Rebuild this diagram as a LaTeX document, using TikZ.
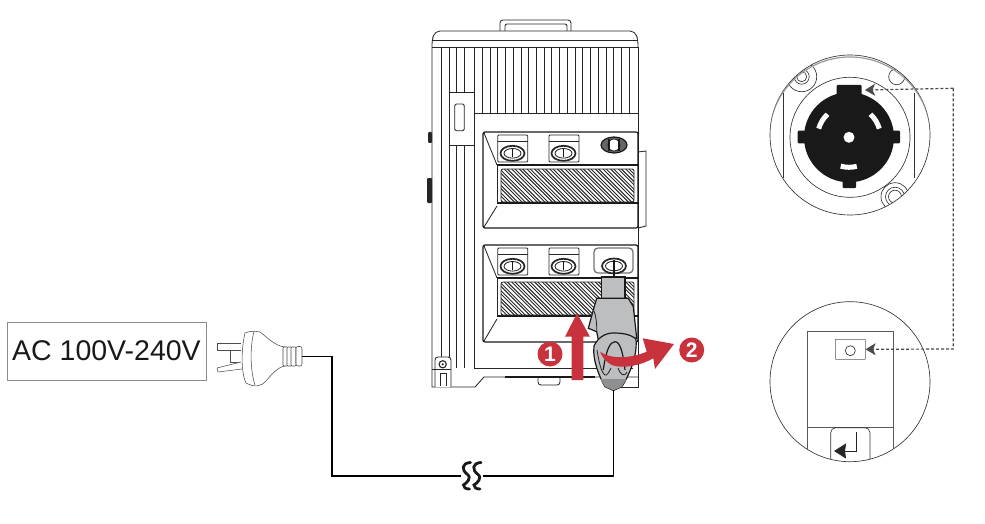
\documentclass[tikz,border=0pt]{standalone}
\usepackage{fontspec}
\setmainfont{Liberation Sans}
\usetikzlibrary{arrows.meta}
\definecolor{markred}{HTML}{C8323D}
\definecolor{pluglight}{HTML}{BDBEC0}
\definecolor{plugdark}{HTML}{8E8F91}
\definecolor{calloutgrey}{HTML}{4A4A4A}
\begin{document}
\begin{tikzpicture}[
    x=1pt, y=-1pt,
    thinline/.style={draw=black!85, line width=0.85pt},
    panelline/.style={draw=black!90, line width=1.2pt},
    hatchline/.style={draw=black!85, line width=0.95pt},
    plugline/.style={draw=black!70, line width=0.55pt},
    cable/.style={draw=black, line width=1.5pt},
    detailline/.style={draw=black!80, line width=0.65pt},
    leader/.style={draw=calloutgrey, line width=1.2pt, densely dashed, -{Stealth[length=10pt,width=12pt,inset=2.5pt]}},
    numberdot/.style={circle, fill=markred, text=white, minimum size=25pt, inner sep=0pt, font=\fontsize{21}{21}\selectfont\bfseries},
    voltbox/.style={draw=black!45, line width=0.6pt, minimum width=199pt, minimum height=58pt, inner sep=0pt, font=\fontsize{28.5}{30}\selectfont, text=black!90}
  ]
  \useasboundingbox (0,0) rectangle (985,524);

  % mains side
  \node[voltbox] (acbox) at (106.5,351) {AC 100V-240V};
  \draw[plugline, fill=white] (241,343) -- (217,343) -- (217,350) -- (241,350);
  \draw[plugline] (230,351) -- (230,362) -- (241,362);
  \draw[plugline, fill=white] (241,362) -- (217,368) -- (218,372) -- (242,369);
  \draw[plugline, fill=white] (245,333) .. controls (242,345) and (240,370) .. (246,383)
    .. controls (255,388) and (262,386) .. (266,381) .. controls (272,374) and (278,367) .. (285,366)
    -- (285,347) .. controls (275,346) and (268,338) .. (260,332) .. controls (255,331) and (249,331) .. (245,333) -- cycle;
  \draw[plugline] (254,332) .. controls (250,345) and (250,370) .. (255,385);
  \foreach \ribx in {283,287,291} {
    \draw[plugline, fill=white, rounded corners=1pt] (\ribx,347) rectangle (\ribx+5,366);
  }
  \draw[plugline, fill=white, rounded corners=2pt] (296,346.5) rectangle (302,366);
  \coordinate (plugend) at (302,356.5);

  % device body
  \draw[thinline, rounded corners=3pt] (500,31) -- (500,20) -- (571,20) -- (571,31);
  \draw[thinline, rounded corners=2pt] (505,31) -- (505,24) -- (567,24) -- (567,31);
  \draw[thinline, rounded corners=5pt] (432,47) -- (432,40) -- (435,31) -- (635,31) -- (638,40) -- (638,47);
  \draw[thinline] (432,40) -- (638,40);
  \draw[thinline] (432,47) -- (638,47);
  \draw[thinline] (432,47) -- (432,387) -- (475,387) -- (484,377) -- (638,377);
  \draw[thinline] (638,47) -- (638,387) -- (614,387);
  \foreach \ribx in {441.7,449.3,456.7,464.7,474.3} {
    \draw[thinline] (\ribx,47) -- (\ribx,368);
  }
  \foreach \ribx in {482,490,497.7,505.3,513,521,528.7,536.3,544,551.7,559.3,567,575,582.7,590.3,598.3,606,613.7,621.3,629.3} {
    \draw[thinline] (\ribx,47) -- (\ribx,113);
  }
  \draw[thinline] (474.3,113) -- (638,113);
  \draw[thinline, fill=white] (449.3,92.7) rectangle (474.3,145);
  \draw[thinline, rounded corners=1.5pt] (454.7,104) rectangle (464.3,130.7);
  \fill[black!85, rounded corners=1pt] (428,132) rectangle (432,143);
  \fill[black!85, rounded corners=1pt] (427,178) rectangle (432,203);
  \draw[thinline] (474.3,368) -- (633,368);
  \draw[panelline] (505,377) -- (595,377);
  \draw[thinline, rounded corners=3pt] (538,377) -- (538,385) -- (560,385) -- (560,377);
  \draw[thinline, fill=white, rounded corners=3pt] (435,387) -- (435,357) -- (451,357) -- (451,387);
  \draw[line width=1.1pt, draw=black!85] (442.7,364.3) circle (3.6);
  \fill[black!85] (442.7,364.3) circle (1.2);
  \draw[thinline] (432,369) -- (451,369);
  \draw[thinline] (440,386) -- (440,373) -- (446.7,373) -- (446.7,386);

  % upper and lower panel
  \foreach \panely/\panelend in {132/228,245/342} {
    \draw[panelline, rounded corners=2pt] (483,\panely) rectangle (638,\panelend);
    \draw[thinline] (484,\panely+1) -- (497,\panely+33);
    \draw[panelline] (497,\panely+33) -- (638,\panely+33);
    \draw[panelline] (497,\panely+71) -- (638,\panely+71);
    \draw[thinline] (497,\panely+33) -- (497,\panely+71);
    \draw[thinline] (497,\panely+74) -- (484,\panelend-1);
    \begin{scope}
      \clip[rounded corners=2pt] (501,\panely+37) rectangle (634,\panely+70);
      \foreach \hatchx in {450,457.6,...,640} {
        \draw[hatchline] (\hatchx,\panely+36) -- (\hatchx+35,\panely+71);
        \draw[hatchline] (\hatchx+3.2,\panely+36) -- (\hatchx+38.2,\panely+71);
      }
    \end{scope}
    \draw[thinline, rounded corners=2pt] (501,\panely+37) rectangle (634,\panely+70);
    \draw[thinline, rounded corners=1pt] (497.7,\panely+3) rectangle (527.7,\panely+30);
    \draw[thinline, rounded corners=1pt] (549,\panely+3) rectangle (579,\panely+30);
    \draw[thinline] (497.7,\panely+9) -- (527.7,\panely+9);
    \draw[thinline] (549,\panely+9) -- (579,\panely+9);
    \foreach \portx in {512.5,563.5} {
      \draw[line width=1.7pt, draw=black!85, fill=white] (\portx,\panely+21.3) ellipse (12 and 7.5);
      \draw[thinline] (\portx,\panely+21.3) ellipse (8.5 and 4.8);
      \draw[panelline] (\portx,\panely+17) -- (\portx,\panely+25);
    }
  }
  \draw[thinline] (638,152) -- (646,151) -- (646,226) -- (638,228);
  \draw[panelline, fill=black!60] (614,145) ellipse (13 and 8);
  \draw[thinline, fill=white] (614,145) ellipse (6 and 6);
  \draw[panelline] (609,139) -- (609,151);
  \draw[panelline] (619,139) -- (619,151);
  \draw[line width=1.3pt, draw=black!55, rounded corners=4pt] (594,248) rectangle (633,273);

  % power connector
  \draw[line width=1.7pt, draw=black!85, fill=white] (614,266) ellipse (12 and 7.5);
  \draw[thinline] (614,266) ellipse (8.5 and 4.8);
  \draw[panelline] (614,260) -- (614,277);
  \coordinate (plugtip) at (613.5,390);
  \draw[panelline, fill=pluglight] (601.7,277) rectangle (625,298.3);
  \draw[panelline, fill=pluglight] (596.7,298.3) -- (628.3,298.3) -- (633.3,306.7) -- (636.7,338.3)
    -- (598.3,340) -- (596.7,331.7) -- (588.3,328.3) -- (593.3,310) -- cycle;
  \draw[thinline] (593.3,310) .. controls (596,314) and (597,325) .. (596.7,331.7);
  \draw[panelline, fill=pluglight] (594,346) .. controls (598,337) and (606,333) .. (613,333)
    .. controls (622,333) and (630,334) .. (636,339) .. controls (637,350) and (634,360) .. (631.7,366.7)
    .. controls (628,376) and (625,382) .. (621.7,386.7) -- (613.5,390.5) -- (605,386.7)
    .. controls (600,378) and (592,360) .. (594,346) -- cycle;
  \fill[plugdark] (600.5,379) -- (626.5,379) -- (621.7,386.7) -- (613.5,390.5) -- (605,386.7) -- cycle;
  \draw[panelline] (603.3,370) .. controls (606,350) and (610,341.7) .. (615,341.7)
    .. controls (620,341.7) and (623,352) .. (625,370);
  \draw[thinline] (597,350) .. controls (599,362) and (601,372) .. (605,375) .. controls (607,376) and (609,372) .. (611,368);
  \draw[thinline] (618,368) .. controls (620,374) and (624,378) .. (627,372);

  % marks
  \fill[markred] (571.7,380) -- (571.7,336.7) -- (565,336.7) -- (577,313.3) -- (590,336.7) -- (583.3,336.7) -- (583.3,380) -- cycle;
  \fill[markred] (600,351.7) .. controls (612,360) and (632,358) .. (646.7,351.7) -- (642.7,338.3) -- (674,344) -- (655,369) -- (653.3,358.3)
    .. controls (640,366) and (622,369) .. (611.7,365) .. controls (606,362) and (602,357) .. (600,351.7) -- cycle;
  \node[numberdot] (numone) at (550,354) {1};
  \node[numberdot] (numtwo) at (691.7,350) {2};

  % cable
  \coordinate (cornerup) at (332,356.5);
  \coordinate (cornerdown) at (332,476);
  \coordinate (breakleft) at (461,476);
  \coordinate (breakright) at (483,476);
  \coordinate (cornerright) at (613.5,476);
  \draw[cable] (plugend) -- (cornerup) -- (cornerdown) -- (breakleft);
  \draw[cable] (breakright) -- (cornerright) -- (plugtip);
  \foreach \breakx in {463.5,474} {
    \draw[line width=2.8pt, line cap=round, draw=black!90] (\breakx+7,462.5) .. controls (\breakx-2,463) and (\breakx-2,470) .. (\breakx+3.5,474) .. controls (\breakx+9,478) and (\breakx+3,483) .. (\breakx,485) .. controls (\breakx,487.5) and (\breakx+2,489) .. (\breakx+6,489);
  }

  % socket detail
  \draw[detailline] (850,135) circle (80);
  \begin{scope}
    \clip (850,135) circle (80);
    \draw[detailline] (801.7,76.7) circle (5);
    \draw[detailline] (801.7,76.7) circle (7.5);
    \draw[detailline] (801.7,76.7) circle (15);
    \draw[detailline] (896.7,76.7) circle (8);
    \draw[detailline] (895,196.7) circle (6.5);
    \draw[detailline] (895,196.7) circle (9.5);
    \draw[detailline] (895,196.7) circle (14);
    \draw[draw=black!40, line width=1.2pt] (850,138) circle (81);
  \end{scope}
  \draw[detailline, fill=white] (850,137.3) circle (60);
  \draw[detailline] (783.3,93) -- (783.3,178);
  \draw[detailline] (914,93) -- (914,178);
  \fill[black!90] (849,137.3) circle (45);
  \fill[black!90, rounded corners=1pt] (836.7,85) rectangle (861.7,100);
  \fill[black!90, rounded corners=1pt] (797.7,130.7) rectangle (810,143.3);
  \fill[black!90, rounded corners=1pt] (888,130.7) rectangle (900,143.3);
  \fill[black!90, rounded corners=1pt] (842.7,175) rectangle (856,188);
  \fill[white] (849,137.3) circle (5.5);
  \draw[white, line width=5pt] (849,137.3) ++(-164:31.5) arc (-164:-133:31.5);
  \draw[white, line width=5pt] (849,137.3) ++(-47:31.5) arc (-47:-16:31.5);
  \draw[white, line width=5pt] (849,137.3) ++(-254:30) arc (-254:-285:30);
  \coordinate (sockettab) at (865,90);

  % switch detail
  \draw[detailline] (850,381.7) circle (80);
  \begin{scope}
    \clip (850,381.7) circle (80);
    \draw[detailline, black!65] (807.7,470) -- (807.7,331.7) -- (893.3,331.7) -- (893.3,470);
    \draw[detailline, black!65] (807.7,427.7) -- (893.3,427.7);
    \draw[detailline, rounded corners=5pt] (830.7,470) -- (830.7,427.7) -- (870,427.7) -- (870,470);
  \end{scope}
  \node[draw=black!65, line width=0.6pt, minimum width=30pt, minimum height=20pt, inner sep=0pt, rounded corners=0.5pt] (switchbox) at (850.3,349.3) {};
  \draw[detailline] (850.3,350.7) circle (5);
  \coordinate (elbow) at (856,451);
  \coordinate (entertip) at (834,451);
  \draw[line width=0.9pt, draw=black!85, -{Stealth[length=12pt,width=15pt,inset=1pt]}] (856,432.3) -- (elbow) -- (entertip);

  % dotted leader
  \coordinate (leadtop) at (953.3,88.3);
  \coordinate (leadbottom) at (953.3,349);
  \draw[leader] (leadtop) -- (sockettab);
  \draw[leader] (leadtop) -- (leadbottom) -- (switchbox.east);
\end{tikzpicture}
\end{document}
